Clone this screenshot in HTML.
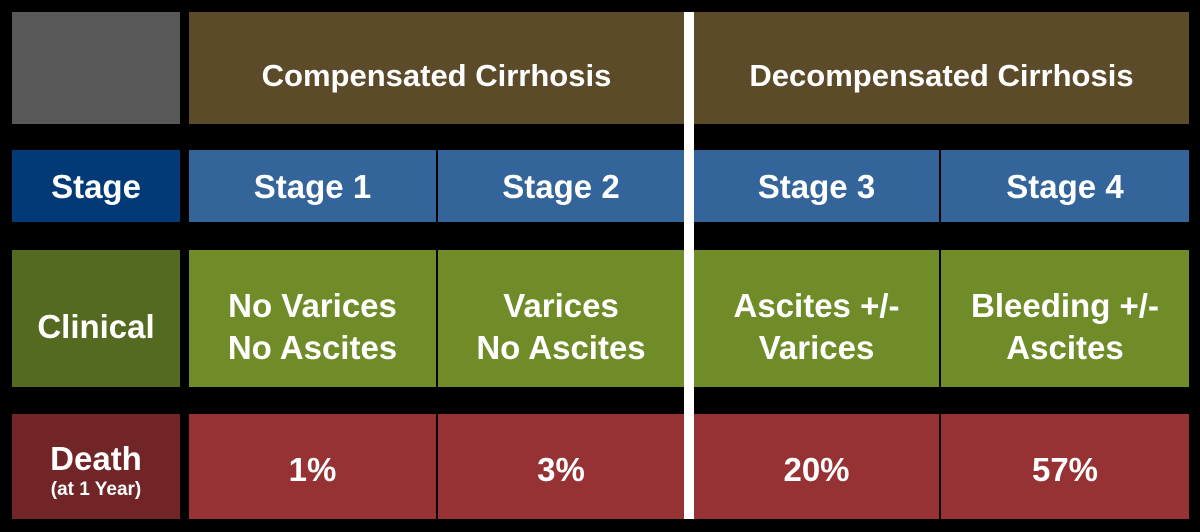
<!DOCTYPE html>
<html><head><style>
body{margin:0;width:1200px;height:532px;background:#000;position:relative;overflow:hidden;font-family:"Liberation Sans",Arial,sans-serif;font-weight:bold;color:#fff}
.c{position:absolute;display:flex;align-items:center;justify-content:center;text-align:center;font-size:33px;line-height:42px;box-sizing:border-box}
</style></head><body>
<div class="c" style="left:12px;top:12px;width:168px;height:112px;background:#595959"></div>
<div class="c" style="left:189px;top:12px;width:1000px;height:112px;background:#5c4b29"></div>
<div class="c" style="left:189px;top:12px;width:495px;height:112px;font-size:31px;padding-top:16px">Compensated Cirrhosis</div>
<div class="c" style="left:694px;top:12px;width:495px;height:112px;font-size:31px;padding-top:16px">Decompensated Cirrhosis</div>

<div class="c" style="left:12px;top:150px;width:168px;height:72px;background:#023a78;padding-top:2px">Stage</div>
<div class="c" style="left:189px;top:150px;width:247px;height:72px;background:#33649a;padding-top:2px">Stage 1</div>
<div class="c" style="left:438px;top:150px;width:246px;height:72px;background:#33649a;padding-top:2px">Stage 2</div>
<div class="c" style="left:694px;top:150px;width:245px;height:72px;background:#33649a;padding-top:2px">Stage 3</div>
<div class="c" style="left:941px;top:150px;width:248px;height:72px;background:#33649a;padding-top:2px">Stage 4</div>

<div class="c" style="left:12px;top:250px;width:168px;height:137px;background:#546a20;padding-top:16px">Clinical</div>
<div class="c" style="left:189px;top:250px;width:247px;height:137px;background:#6f8c28;padding-top:16px">No Varices<br>No Ascites</div>
<div class="c" style="left:438px;top:250px;width:246px;height:137px;background:#6f8c28;padding-top:16px">Varices<br>No Ascites</div>
<div class="c" style="left:694px;top:250px;width:245px;height:137px;background:#6f8c28;padding-top:16px">Ascites +/-<br>Varices</div>
<div class="c" style="left:941px;top:250px;width:248px;height:137px;background:#6f8c28;padding-top:16px">Bleeding +/-<br>Ascites</div>

<div class="c" style="left:12px;top:414px;width:168px;height:105px;background:#722527;flex-direction:column;line-height:36px;padding-top:10px">Death<span style="font-size:19px;line-height:26px">(at 1 Year)</span></div>
<div class="c" style="left:189px;top:414px;width:247px;height:105px;background:#963134;padding-top:6px">1%</div>
<div class="c" style="left:438px;top:414px;width:246px;height:105px;background:#963134;padding-top:6px">3%</div>
<div class="c" style="left:694px;top:414px;width:245px;height:105px;background:#963134;padding-top:6px">20%</div>
<div class="c" style="left:941px;top:414px;width:248px;height:105px;background:#963134;padding-top:6px">57%</div>

<div style="position:absolute;left:684px;top:12px;width:10px;height:507px;background:#fff"></div>
</body></html>
